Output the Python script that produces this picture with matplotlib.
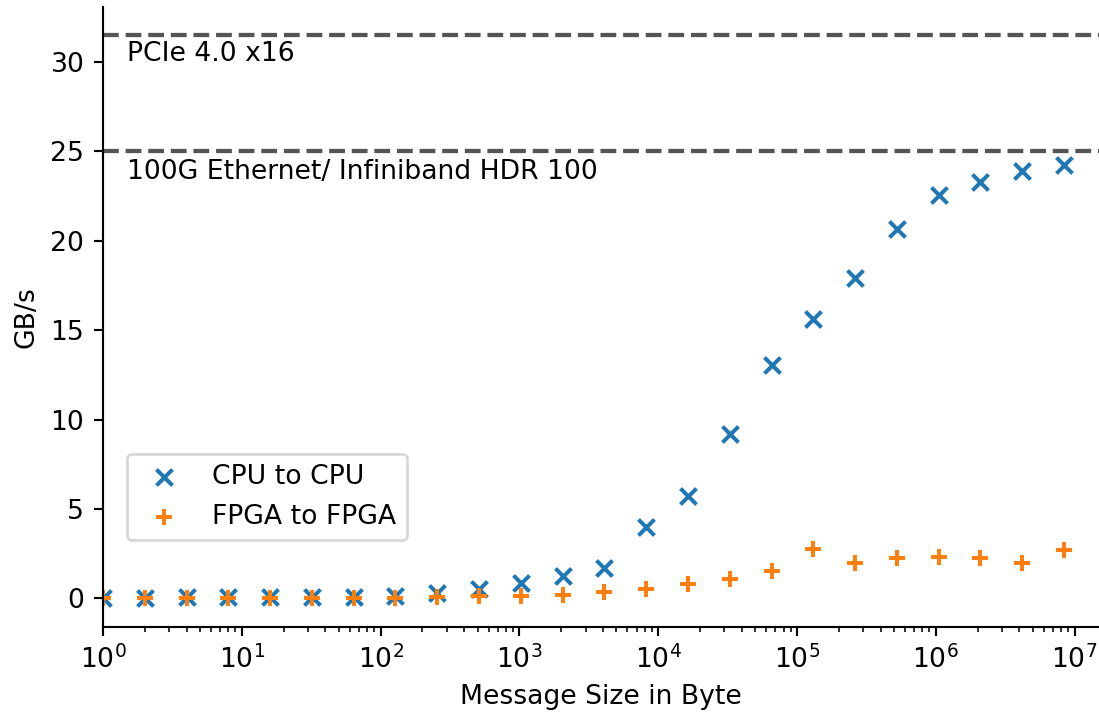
import matplotlib
matplotlib.use("Agg")
import matplotlib.pyplot as plt
import numpy as np

msg_sizes = [2**i for i in range(24)]
cpu_gbps = [0.03, 0.04, 0.05, 0.06, 0.07, 0.08, 0.10, 0.13, 0.28, 0.54, 0.86, 1.23,
            1.72, 3.99, 5.71, 9.17, 13.07, 15.63, 17.92, 20.68, 22.56, 23.29, 23.90, 24.22]
fpga_gbps = [0.02, 0.02, 0.02, 0.02, 0.02, 0.03, 0.03, 0.04, 0.08, 0.13, 0.13, 0.20,
             0.33, 0.52, 0.82, 1.10, 1.55, 2.78, 2.00, 2.26, 2.31, 2.28, 1.96, 2.69]
ref_values = [31.5, 25.0]
ref_labels = ["PCIe 4.0 x16", "100G Ethernet/ Infiniband HDR 100"]
ref_text_y = [30.05, 23.45]

dpi = 192
fig = plt.figure(figsize=(1099 / dpi, 713 / dpi), dpi=dpi)
ax = fig.add_axes([103 / 1099, (713 - 626.5) / 713, (1099 - 103) / 1099, (626.5 - 7) / 713])

ax.scatter(msg_sizes, cpu_gbps, marker="x", color="#1f77b4", label="CPU to CPU")
ax.scatter(msg_sizes, fpga_gbps, marker="+", color="#ff7f0e", label="FPGA to FPGA")

for v, lab, ty in zip(ref_values, ref_labels, ref_text_y):
    ax.axhline(v, color="#555555", linestyle="--", linewidth=1.6)
    ax.text(1.5, ty, lab, va="baseline", ha="left", fontsize=10)

ax.set_xscale("log")
ax.set_xlim(1, 10 ** 7.176)
ax.set_ylim(-1.575, 33.075)
ax.set_yticks([0, 5, 10, 15, 20, 25, 30])
ax.spines["top"].set_visible(False)
ax.spines["right"].set_visible(False)
ax.set_xlabel("Message Size in Byte")
ax.set_ylabel("GB/s")
ax.legend(loc="lower left", bbox_to_anchor=(0.024, 0.139), borderaxespad=0)

fig.savefig("out.png", dpi=dpi)
